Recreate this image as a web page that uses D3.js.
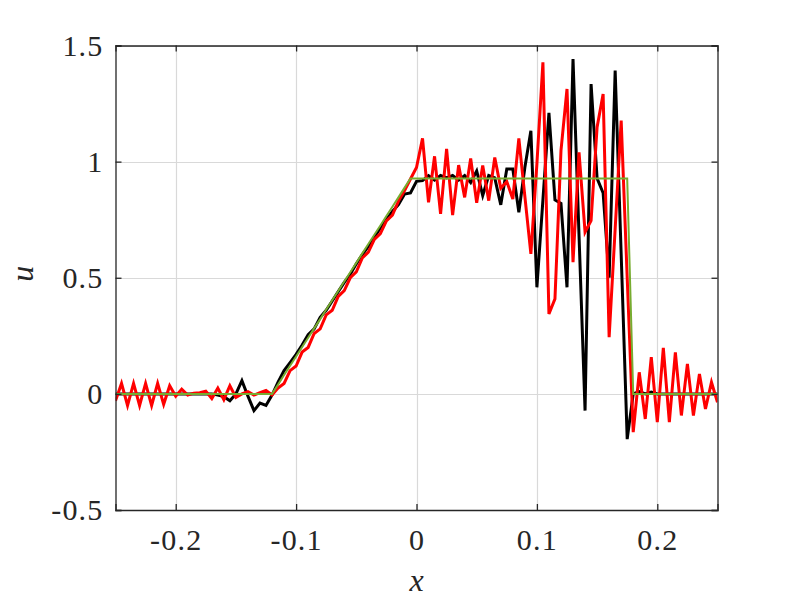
<!DOCTYPE html>
<html>
<head>
<meta charset="utf-8">
<script src="https://cdn.jsdelivr.net/npm/d3@7"></script>
<style>
  html, body { margin: 0; padding: 0; background: #fff; }
  svg { display: block; }
  .tick text { font-family: "Liberation Serif", "DejaVu Serif", serif; font-size: 30px; letter-spacing: 1.2px; fill: #262626; }
</style>
</head>
<body>
<svg id="chart" width="793" height="609"></svg>
<script>
// ---- data ----
const xValues = [-0.25,-0.245,-0.24,-0.235,-0.23,-0.225,-0.22,-0.215,-0.21,-0.205,
  -0.2,-0.195,-0.19,-0.185,-0.18,-0.175,-0.17,-0.165,-0.16,-0.155,
  -0.15,-0.145,-0.14,-0.135,-0.13,-0.125,-0.12,-0.115,-0.11,-0.105,
  -0.1,-0.095,-0.09,-0.085,-0.08,-0.075,-0.07,-0.065,-0.06,-0.055,
  -0.05,-0.045,-0.04,-0.035,-0.03,-0.025,-0.02,-0.015,-0.01,-0.005,
  0,0.005,0.01,0.015,0.02,0.025,0.03,0.035,0.04,0.045,
  0.05,0.055,0.06,0.065,0.07,0.075,0.08,0.085,0.09,0.095,
  0.1,0.105,0.11,0.115,0.12,0.125,0.13,0.135,0.14,0.145,
  0.15,0.155,0.16,0.165,0.17,0.175,0.18,0.185,0.19,0.195,
  0.2,0.205,0.21,0.215,0.22,0.225,0.23,0.235,0.24,0.245,0.25];

const blackU = [0,0,0,0,0,0,0,0,0,0,
  0,0,0,0,0,0,0,-0.005,-0.012,-0.03,
  0.0,0.057,-0.01,-0.072,-0.04,-0.05,-0.005,0.05,0.10,0.135,
  0.17,0.21,0.255,0.28,0.33,0.36,0.40,0.44,0.48,0.515,
  0.56,0.60,0.635,0.675,0.715,0.75,0.785,0.815,0.86,0.865,
  0.915,0.918,0.94,0.92,0.94,0.93,0.94,0.92,0.94,0.91,
  0.96,0.854,0.94,0.93,0.814,0.968,0.968,0.782,0.975,1.133,
  0.459,0.835,1.21,0.835,0.82,0.459,1.442,0.68,-0.072,1.334,
  0.928,0.865,0.5,1.392,0.6,-0.195,0.0,0.01,0.0,0.008,
  0,0,0,0,0,0,0,0,0,0,0];

const redU = [-0.03,0.045,-0.05,0.045,-0.05,0.045,-0.05,0.045,-0.045,0.035,
  -0.01,0.02,-0.005,0.003,0.005,0.012,-0.02,0.025,-0.025,0.035,
  -0.015,0.0,0.01,-0.005,0.005,0.015,-0.005,0.025,0.045,0.10,
  0.12,0.18,0.20,0.26,0.28,0.34,0.36,0.42,0.445,0.50,
  0.525,0.585,0.61,0.665,0.69,0.745,0.77,0.83,0.875,0.925,
  0.975,1.10,0.825,1.023,0.775,1.055,0.77,0.985,0.846,1.014,
  0.823,0.983,0.832,1.018,0.885,0.914,0.839,1.10,0.85,0.603,
  0.99,1.428,0.344,0.409,1.047,1.313,0.567,1.04,0.696,0.746,
  1.148,1.291,0.244,0.71,1.177,0.5,-0.165,0.093,-0.108,0.158,
  -0.122,0.198,-0.122,0.179,-0.093,0.129,-0.093,0.086,-0.065,0.05,-0.036];

const exactU = [0,0,0,0,0,0,0,0,0,0,
  0,0,0,0,0,0,0,0,0,0,
  0,0,0,0,0,0,0,0.040,0.081,0.121,
  0.161,0.202,0.242,0.282,0.322,0.363,0.403,0.443,0.484,0.524,
  0.564,0.605,0.645,0.685,0.725,0.766,0.806,0.846,0.887,0.927,
  0.927,0.927,0.927,0.927,0.927,0.927,0.927,0.927,0.927,0.927,
  0.927,0.927,0.927,0.927,0.927,0.927,0.927,0.927,0.927,0.927,
  0.927,0.927,0.927,0.927,0.927,0.927,0.927,0.927,0.927,0.927,
  0.927,0.927,0.927,0.927,0.927,0.927,0,0,0,0,
  0,0,0,0,0,0,0,0,0,0,0];

const xTicks = [-0.2, -0.1, 0, 0.1, 0.2];
const xTickLabels = ["-0.2", "-0.1", "0", "0.1", "0.2"];
const yTicks = [-0.5, 0, 0.5, 1, 1.5];
const yTickLabels = ["-0.5", "0", "0.5", "1", "1.5"];
const xLabel = "x";
const yLabel = "u";

// ---- layout ----
const L = 115.5, R = 717.5, T = 45.5, B = 510;
const svg = d3.select("#chart");
const x = d3.scaleLinear().domain([-0.25, 0.25]).range([L, R]);
const y = d3.scaleLinear().domain([-0.5, 1.5]).range([B, T]);

// grid
const grid = svg.append("g").attr("stroke", "#d9d9d9").attr("stroke-width", 1.2);
xTicks.forEach(t => grid.append("line")
  .attr("x1", Math.round(x(t)) + 0.5).attr("x2", Math.round(x(t)) + 0.5)
  .attr("y1", T).attr("y2", B));
yTicks.forEach(t => grid.append("line")
  .attr("y1", Math.round(y(t)) + 0.5).attr("y2", Math.round(y(t)) + 0.5)
  .attr("x1", L).attr("x2", R));

// lines
const mk = vals => d3.line().x((d, i) => x(xValues[i])).y(d => y(d))(vals);
svg.append("clipPath").attr("id", "clip").append("rect")
  .attr("x", L).attr("y", T).attr("width", R - L).attr("height", B - T);
const plot = svg.append("g").attr("clip-path", "url(#clip)");
plot.append("path").attr("d", mk(blackU)).attr("fill", "none")
  .attr("stroke", "#000").attr("stroke-width", 3);
plot.append("path").attr("d", mk(redU)).attr("fill", "none")
  .attr("stroke", "#ff0000").attr("stroke-width", 3);
plot.append("path").attr("d", mk(exactU)).attr("fill", "none")
  .attr("stroke", "#77ac30").attr("stroke-width", 2);

// axes
const axCol = "#262626";
const fmtX = d => xTickLabels[xTicks.indexOf(d)];
const fmtY = d => yTickLabels[yTicks.indexOf(d)];
const gB = svg.append("g").attr("transform", `translate(0,${B})`)
  .call(d3.axisBottom(x).tickValues(xTicks).tickFormat(fmtX).tickSize(-6).tickPadding(19));
const gT = svg.append("g").attr("transform", `translate(0,${T})`)
  .call(d3.axisTop(x).tickValues(xTicks).tickFormat("").tickSize(-6));
const gL = svg.append("g").attr("transform", `translate(${L},0)`)
  .call(d3.axisLeft(y).tickValues(yTicks).tickFormat(fmtY).tickSize(-6).tickPadding(12));
const gR = svg.append("g").attr("transform", `translate(${R},0)`)
  .call(d3.axisRight(y).tickValues(yTicks).tickFormat("").tickSize(-6));
[gB, gT, gL, gR].forEach(g => {
  g.select(".domain").attr("stroke", axCol).attr("stroke-width", 1.3);
  g.selectAll(".tick line").attr("stroke", axCol).attr("stroke-width", 1.3);
});

// axis labels
svg.append("text").attr("x", (L + R) / 2).attr("y", 591)
  .attr("text-anchor", "middle")
  .style("font-family", "'Liberation Serif', serif").style("font-style", "italic")
  .style("font-size", "32px").style("fill", axCol).text(xLabel);
svg.append("text")
  .attr("transform", `translate(33,${(T + B) / 2 - 4}) rotate(-90)`)
  .attr("text-anchor", "middle")
  .style("font-family", "'Liberation Serif', serif").style("font-style", "italic")
  .style("font-size", "32px").style("fill", axCol).text(yLabel);
</script>
</body>
</html>
